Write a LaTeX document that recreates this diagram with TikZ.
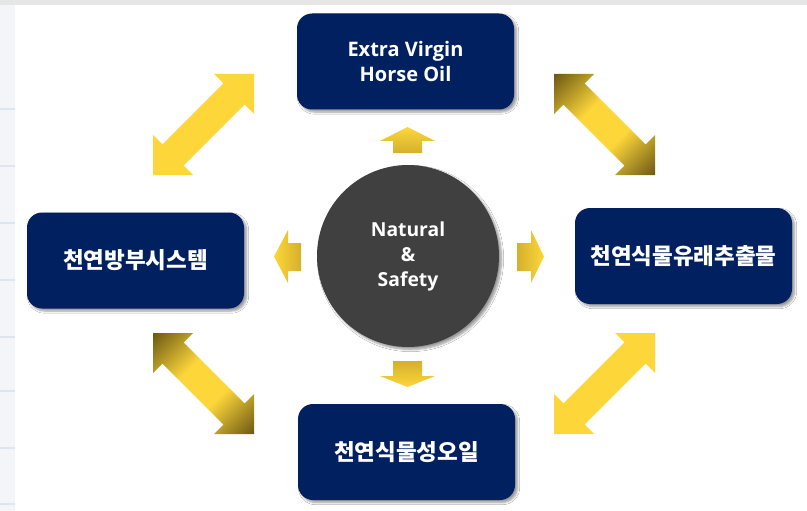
\documentclass[tikz,border=0pt]{standalone}
\usepackage{fontspec}
\setmainfont{Open Sans}
\newfontfamily\krfont{Noto Sans CJK KR}
\usetikzlibrary{shadows.blur}
\definecolor{navy}{HTML}{002060}
\definecolor{hubgray}{HTML}{404040}
\definecolor{gbright}{HTML}{FDD73A}
\definecolor{gdark}{HTML}{6E5A14}
\definecolor{gmid}{HTML}{D4B02C}
\definecolor{bgtop}{HTML}{E6E6E6}
\definecolor{bgleft}{HTML}{F3F5F8}
\definecolor{bgline}{HTML}{DCE5F1}
\pgfdeclarehorizontalshading{goldends}{100bp}{color(0bp)=(gdark); color(15bp)=(gdark); color(40bp)=(gbright); color(60bp)=(gbright); color(85bp)=(gdark); color(100bp)=(gdark)}
\tikzset{
  box/.style={rectangle, rounded corners=15pt, fill=navy, text=white, minimum width=217pt, minimum height=96pt, inner sep=0pt, align=center,
    blur shadow={shadow xshift=2.5pt, shadow yshift=-2.5pt, shadow blur steps=6, shadow opacity=40}},
  entxt/.style={font=\bfseries\fontsize{20}{25}\selectfont},
  hubtxt/.style={font=\bfseries\fontsize{19.3}{25}\selectfont},
  krtxt/.style={font=\krfont\bfseries\fontsize{22.5}{25}\selectfont},
  hub/.style={circle, fill=hubgray, text=white, minimum size=182pt, inner sep=0pt, align=center,
    blur shadow={shadow xshift=2.5pt, shadow yshift=-2.5pt, shadow blur steps=6, shadow opacity=40}},
  flatgold/.style={fill=gbright},
  endgold/.style={shading=goldends, shading angle=-45},
}
\begin{document}
\begin{tikzpicture}[x=1pt,y=-1pt]
\useasboundingbox (0,0) rectangle (807,511);
% background
\fill[bgleft] (0,0) rectangle (807,511);
\foreach \yy in {108,165,222,279,336,390,447,503}
  \fill[bgline] (0,\yy) rectangle (15,\yy+2);
\fill[bgtop] (0,0) rectangle (807,5);
\fill[white] (15,5) rectangle (807,511);

% boxes
\node[box, entxt] (oil) at (405.5,61.5) {Extra Virgin\\Horse Oil};
\node[box, krtxt] (pres) at (135.5,260.5) {천연방부시스템};
\node[box, krtxt] (extr) at (683.5,256) {천연식물유래추출물};
\node[box, krtxt] (plant) at (406.5,452) {천연식물성오일};
\node[hub, hubtxt] (hub) at (408,256) {Natural\\\&\\Safety};

% diagonal double arrows (NE-SW)
\fill[flatgold, shift={(153,74)}] (101,0) -- (101,40) -- (91.6,30.6) -- (30.6,91.6) -- (40,101) -- (0,101) -- (0,61) -- (9.4,70.4) -- (70.4,9.4) -- (61,0) -- cycle;
\fill[flatgold, shift={(554,333)}] (101,0) -- (101,40) -- (91.6,30.6) -- (30.6,91.6) -- (40,101) -- (0,101) -- (0,61) -- (9.4,70.4) -- (70.4,9.4) -- (61,0) -- cycle;
% diagonal double arrows (NW-SE)
\path[endgold, shift={(554,74)}] (0,0) -- (0,40) -- (9.4,30.6) -- (70.4,91.6) -- (61,101) -- (101,101) -- (101,61) -- (91.6,70.4) -- (30.6,9.4) -- (40,0) -- cycle;
\path[endgold, shift={(153,333)}] (0,0) -- (0,40) -- (9.4,30.6) -- (70.4,91.6) -- (61,101) -- (101,101) -- (101,61) -- (91.6,70.4) -- (30.6,9.4) -- (40,0) -- cycle;

% small arrows from hub
\path[top color=gbright, bottom color=gmid] (407.5,127) -- (435,141) -- (422,141) -- (422,153) -- (393,153) -- (393,141) -- (380,141) -- cycle;
\path[bottom color=gbright, top color=gmid] (407.5,387) -- (435,376) -- (422,376) -- (422,361) -- (393,361) -- (393,376) -- (380,376) -- cycle;
\path[left color=gbright, right color=gmid] (274,256.5) -- (288,230) -- (288,243) -- (301,243) -- (301,271) -- (288,271) -- (288,283) -- cycle;
\path[right color=gbright, left color=gmid] (544,256.5) -- (531,230) -- (531,243) -- (517,243) -- (517,271) -- (531,271) -- (531,283) -- cycle;
\end{tikzpicture}
\end{document}
